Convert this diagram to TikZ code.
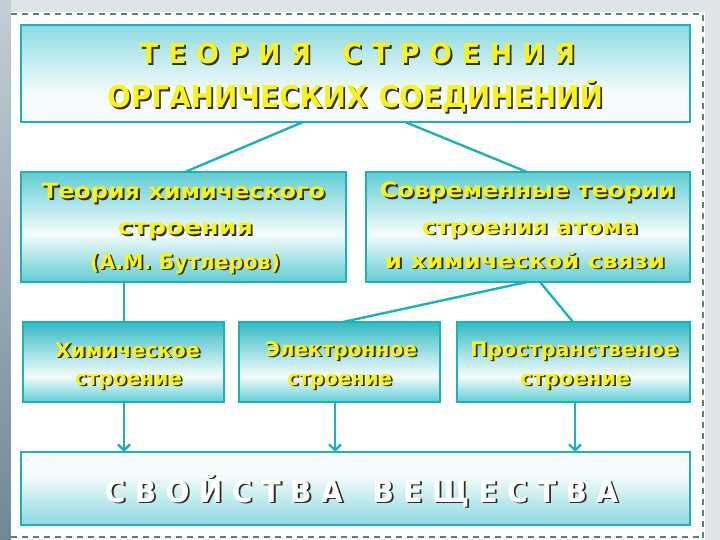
\documentclass[tikz,border=0pt]{standalone}
\usepackage{fontspec}
\setmainfont{DejaVu Sans}
\usepackage{graphicx}
\usetikzlibrary{arrows.meta}
\definecolor{tealb}{RGB}{30,178,184}
\definecolor{ylw}{RGB}{250,244,20}
\definecolor{shd}{RGB}{45,45,35}
\definecolor{cyA}{RGB}{140,218,225}
\definecolor{cyB}{RGB}{95,205,212}
\definecolor{cyC}{RGB}{50,186,196}
\definecolor{cyW}{RGB}{246,252,252}
\definecolor{dashg}{RGB}{85,135,105}
\pgfdeclareverticalshading{shtop}{100bp}{color(0bp)=(cyW); color(25bp)=(cyW); color(40bp)=(cyW); color(75bp)=(cyA); color(100bp)=(cyA)}
\pgfdeclareverticalshading{shtwo}{100bp}{color(0bp)=(cyB); color(25bp)=(cyB); color(47bp)=(cyW); color(75bp)=(cyB); color(100bp)=(cyB)}
\pgfdeclareverticalshading{shthree}{100bp}{color(0bp)=(cyB); color(25bp)=(cyB); color(41bp)=(cyW); color(75bp)=(cyC); color(100bp)=(cyC)}
\pgfdeclareverticalshading{shbot}{100bp}{color(0bp)=(cyA); color(25bp)=(cyA); color(60bp)=(cyW); color(75bp)=(cyW); color(100bp)=(cyW)}
\newcommand\fitw[2]{\resizebox{#1}{\height}{#2}}
% name, x, baseline y, width, font size, colour, text
\newcommand\shl[7]{%
  \node[ln, text=shd, font=\fontsize{#5}{#5}\selectfont\bfseries] (#1s) at (#2+1.8,#3+1.8) {\fitw{#4pt}{#7}};
  \node[ln, text=#6, font=\fontsize{#5}{#5}\selectfont\bfseries] (#1) at (#2,#3) {\fitw{#4pt}{#7}};}
\newcommand\ls{\hspace{10pt}}
\newcommand\lw{\hspace{32pt}}
\begin{document}
\begin{tikzpicture}[x=1pt,y=-1pt,
  box/.style={draw=tealb, line width=2.6pt, inner sep=0pt, outer sep=0pt},
  con/.style={draw=tealb, line width=2.4pt},
  arr/.style={con, -{Straight Barb[length=6pt,width=12pt]}},
  ln/.style={inner sep=0pt, anchor=base}]
\useasboundingbox (0,0) rectangle (720,540);
% background
\fill[fill={rgb,255:red,222;green,228;blue,232}] (0,0) rectangle (720,540);
\shade[top color={rgb,255:red,195;green,206;blue,214}, bottom color={rgb,255:red,110;green,136;blue,152}] (0,0) rectangle (11,540);
\fill[white] (11,12) rectangle (705,540);
\draw[dashg, line width=1.4pt, dash pattern=on 6pt off 5pt] (11,14) -- (703,14) -- (703,540);
\draw[dashg, line width=1.4pt, dash pattern=on 6pt off 5pt] (11,537) -- (703,537);
% boxes
\node[box, shading=shtop, minimum width=669pt, minimum height=97pt] (top) at (355.5,73.5) {};
\node[box, shading=shtwo, minimum width=325pt, minimum height=110pt] (L2) at (183.5,227) {};
\node[box, shading=shtwo, minimum width=324pt, minimum height=110pt] (R2) at (528,227) {};
\node[box, shading=shthree, minimum width=201pt, minimum height=80pt] (A3) at (123.5,362) {};
\node[box, shading=shthree, minimum width=201pt, minimum height=80pt] (B3) at (339.5,362) {};
\node[box, shading=shthree, minimum width=233pt, minimum height=80pt] (C3) at (573.5,362) {};
\node[box, shading=shbot, minimum width=669pt, minimum height=73pt] (bot) at (355.5,488.5) {};
% connectors
\draw[con] ([xshift=-52.5pt]top.south) -- ([xshift=1.5pt]L2.north);
\draw[con] ([xshift=49.5pt]top.south) -- ([xshift=-1pt]R2.north);
\draw[con] ([xshift=-59.5pt]L2.south) -- ([xshift=0.5pt]A3.north);
\draw[con] ([xshift=-1pt]R2.south) -- ([xshift=3.5pt]B3.north);
\draw[con] ([xshift=12pt]R2.south) -- ([xshift=-0.5pt]C3.north);
\draw[arr] ([xshift=0.5pt]A3.south) -- ([xshift=0.5pt]A3.south |- bot.north);
\draw[arr] ([xshift=-4.5pt]B3.south) -- ([xshift=-4.5pt]B3.south |- bot.north);
\draw[arr] ([xshift=1.5pt]C3.south) -- ([xshift=1.5pt]C3.south |- bot.north);
% texts
\shl{t1}{357.5}{64}{435}{27.5}{ylw}{Т\ls Е\ls О\ls Р\ls И\ls Я\lw С\ls Т\ls Р\ls О\ls Е\ls Н\ls И\ls Я}
\shl{t2}{355}{108}{496}{30}{ylw}{ОРГАНИЧЕСКИХ\hspace{12pt}СОЕДИНЕНИЙ}
\shl{a1}{183.5}{199}{283}{21}{ylw}{Теория химического}
\shl{a2}{185.5}{235}{135}{21}{ylw}{строения}
\shl{a3}{185}{269}{190}{21}{ylw}{(А.М. Бутлеров)}
\shl{b1}{527.5}{198}{295}{21}{ylw}{Современные теории}
\shl{b2}{530}{234}{216}{21}{ylw}{строения атома}
\shl{b3}{525}{268}{280}{21}{ylw}{и химической связи}
\shl{c1}{127.5}{357}{145}{20}{ylw}{Химическое}
\shl{c2}{128.5}{385}{107}{20}{ylw}{строение}
\shl{d1}{341}{356}{152}{20}{ylw}{Электронное}
\shl{d2}{339.5}{385}{105}{20}{ylw}{строение}
\shl{e1}{574}{356}{208}{20}{ylw}{Пространственое}
\shl{e2}{575}{385}{110}{20}{ylw}{строение}
\shl{f1}{361.5}{502}{513}{30}{white}{С\ls В\ls О\ls Й\ls С\ls Т\ls В\ls А\lw В\ls Е\ls Щ\ls Е\ls С\ls Т\ls В\ls А}
\end{tikzpicture}
\end{document}
